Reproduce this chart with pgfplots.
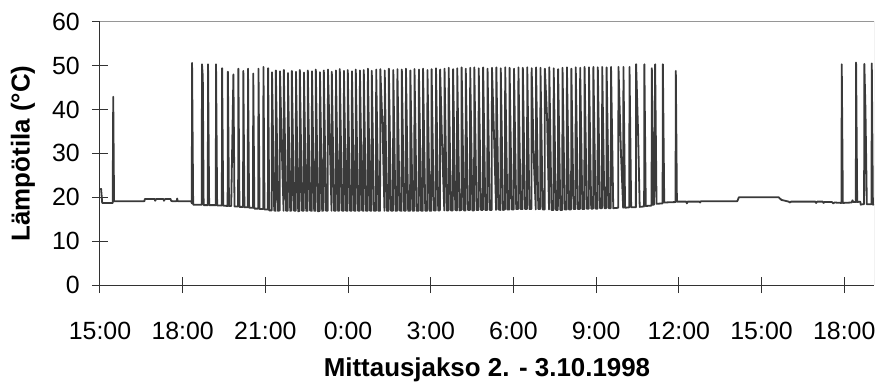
\documentclass[border=0pt]{standalone}
\usepackage{fontspec}
\setmainfont{Liberation Sans}
\usepackage{pgfplots}
\usepackage{pgfplotstable}
\pgfplotsset{compat=1.18}
\definecolor{dataline}{RGB}{58,58,58}
\definecolor{axisdark}{RGB}{50,50,50}
\definecolor{framegray}{RGB}{150,150,150}

\pgfplotstableread{
t T
0.00 21.8
0.04 21.9
0.08 18.7
0.46 18.7
0.48 42.9
0.51 19.1
1.61 19.1
1.63 19.6
1.98 19.6
2.00 19.2
2.04 19.6
2.30 19.6
2.32 19.2
2.36 19.6
2.56 19.6
2.58 19.2
2.62 19.1
2.78 19.1
2.80 19.7
2.82 19.1
3.31 19.1
3.33 18.6
3.34 50.6
3.38 18.3
3.69 18.3
3.70 50.3
3.73 47.5
3.76 18.2
3.91 18.2
3.92 50.3
3.96 18.2
4.20 18.2
4.21 50.3
4.25 18.1
4.42 18.1
4.43 49.4
4.47 18.1
4.63 18.0
4.64 48.6
4.68 18.0
4.76 18.0
4.84 48.0
4.88 17.9
5.01 17.9
5.02 49.3
5.06 17.8
5.19 17.8
5.20 48.8
5.24 17.7
5.36 17.7
5.37 49.3
5.41 17.6
5.55 17.6
5.56 48.2
5.60 17.4
5.74 17.4
5.75 49.3
5.79 17.3
5.92 17.3
5.93 49.7
5.97 17.2
6.09 17.2
6.10 49.4
6.14 17.0
6.23 17.0
6.24 48.5
6.32 17.0
6.37 16.9
6.38 48.9
6.46 16.9
6.52 17.0
6.53 48.7
6.60 30.0
6.66 16.9
6.67 49.0
6.75 16.9
6.81 16.9
6.82 48.3
6.90 16.9
6.95 17.0
6.96 48.8
7.04 16.9
7.10 16.9
7.11 48.6
7.19 16.8
7.24 16.9
7.25 49.0
7.33 16.9
7.39 16.9
7.40 48.4
7.48 16.9
7.53 16.9
7.54 48.9
7.62 17.0
7.68 16.9
7.69 48.7
7.77 16.9
7.82 16.9
7.83 49.1
7.91 16.8
7.97 16.9
7.98 48.5
8.06 16.9
8.11 17.0
8.12 48.9
8.20 16.9
8.26 16.9
8.27 49.1
8.34 32.0
8.40 16.9
8.41 48.6
8.49 16.9
8.55 16.9
8.56 48.9
8.64 16.9
8.69 17.0
8.70 49.2
8.78 16.9
8.84 16.9
8.85 48.8
8.93 16.9
8.98 16.9
8.99 49.0
9.07 16.9
9.13 16.9
9.14 48.7
9.22 16.9
9.27 16.9
9.28 49.1
9.36 16.9
9.42 16.9
9.43 48.9
9.51 17.0
9.56 16.9
9.57 49.0
9.65 16.9
9.71 16.9
9.72 49.3
9.80 16.9
9.85 16.9
9.86 48.8
9.94 16.9
10.01 16.9
10.02 49.1
10.10 16.9
10.16 16.9
10.17 49.2
10.25 36.0
10.32 16.9
10.33 48.9
10.41 16.9
10.47 16.9
10.48 49.3
10.56 16.9
10.63 16.9
10.64 49.0
10.72 16.9
10.78 16.9
10.79 49.2
10.87 17.0
10.94 16.9
10.95 49.1
11.03 16.9
11.09 16.9
11.10 49.3
11.18 16.9
11.25 16.9
11.26 48.9
11.34 16.9
11.40 16.9
11.41 49.2
11.49 16.9
11.56 16.9
11.57 49.1
11.65 16.9
11.71 16.9
11.72 49.3
11.80 16.9
11.87 16.9
11.88 49.0
11.96 16.9
12.02 16.9
12.03 49.2
12.11 17.0
12.18 17.0
12.19 49.4
12.27 17.0
12.33 17.0
12.34 49.1
12.42 30.0
12.49 17.0
12.50 49.3
12.58 17.0
12.64 17.0
12.65 49.5
12.73 17.0
12.80 17.0
12.81 49.2
12.89 17.1
12.95 17.0
12.96 49.4
13.04 17.0
13.11 17.1
13.12 49.6
13.20 17.0
13.26 17.0
13.27 49.3
13.35 17.1
13.42 17.1
13.43 49.5
13.51 17.0
13.57 17.0
13.58 49.6
13.66 17.1
13.73 17.1
13.74 49.4
13.82 17.1
13.89 17.1
13.90 49.6
13.98 17.1
14.05 17.1
14.06 49.3
14.14 17.1
14.21 17.1
14.22 49.5
14.30 33.0
14.37 17.1
14.38 49.6
14.46 17.2
14.53 17.1
14.54 49.4
14.62 17.1
14.69 17.2
14.70 49.6
14.78 17.2
14.85 17.2
14.86 49.5
14.94 17.2
15.01 17.2
15.02 49.3
15.10 17.3
15.17 17.3
15.18 49.6
15.26 17.3
15.33 17.3
15.34 49.5
15.42 17.3
15.49 17.3
15.50 49.6
15.58 17.3
15.65 17.3
15.66 49.4
15.74 28.0
15.81 17.2
15.82 49.6
15.90 17.3
15.97 17.3
15.98 49.5
16.06 17.2
16.13 17.2
16.14 49.3
16.22 38.0
16.29 17.2
16.30 49.6
16.38 17.1
16.45 17.1
16.46 49.4
16.54 17.1
16.61 17.1
16.62 49.2
16.70 17.1
16.77 17.1
16.78 49.5
16.86 17.2
16.93 17.2
16.94 49.6
17.02 17.2
17.09 17.2
17.10 49.3
17.18 17.3
17.25 17.3
17.26 49.6
17.34 17.3
17.41 17.3
17.42 49.5
17.50 17.3
17.57 17.3
17.58 49.7
17.66 17.4
17.73 17.4
17.74 49.6
17.82 17.4
17.89 17.4
17.90 49.7
17.98 17.4
18.05 17.4
18.06 49.6
18.14 17.5
18.21 17.5
18.22 49.7
18.30 17.5
18.37 17.5
18.38 49.6
18.46 17.5
18.53 17.5
18.54 49.7
18.62 17.5
18.80 17.6
18.81 49.7
18.90 30.0
18.98 17.6
18.99 49.7
19.05 17.6
19.20 17.7
19.21 49.7
19.27 17.7
19.44 17.7
19.45 50.3
19.52 35.0
19.58 17.8
19.74 17.9
19.75 50.3
19.80 18.0
20.01 18.1
20.02 49.4
20.06 18.3
20.10 18.3
20.14 50.3
20.19 18.5
20.41 18.6
20.42 50.3
20.47 18.8
20.88 18.9
20.89 48.8
20.93 19.0
21.27 19.0
21.29 18.6
21.32 19.0
21.75 19.0
21.77 18.8
21.80 19.1
23.12 19.1
23.18 20.0
24.62 20.0
24.72 19.4
24.85 19.2
24.98 19.0
25.03 18.8
25.07 19.0
25.95 19.0
25.98 18.7
26.02 19.0
26.22 19.0
26.25 18.7
26.28 18.9
26.55 18.9
26.60 18.6
26.65 18.8
26.90 18.7
26.91 50.3
26.95 18.7
27.27 18.8
27.30 19.3
27.33 18.9
27.42 18.9
27.43 50.7
27.47 18.9
27.58 19.0
27.60 18.3
27.66 18.4
27.72 18.4
27.73 50.4
27.77 40.0
27.82 18.4
27.99 18.4
28.00 50.5
28.04 18.3
28.08 18.4
}\tempdata

\begin{document}
\begin{tikzpicture}
\begin{axis}[
  scale only axis,
  width=774bp, height=263.3bp,
  xmin=0, xmax=28.08,
  ymin=0, ymax=60,
  axis x line*=bottom,
  axis y line*=left,
  axis line style={-, draw=axisdark, line width=1bp},
  xtick={0,3,6,9,12,15,18,21,24,27},
  xticklabels={15:00,18:00,21:00,0:00,3:00,6:00,9:00,12:00,15:00,18:00},
  ytick={0,10,20,30,40,50,60},
  tick align=center,
  major tick length=16bp,
  tick style={draw=axisdark, line width=1bp},
  /pgf/number format/assume math mode=true,
  ticklabel style={font=\fontsize{25}{30}\selectfont, text=black},
  xticklabel style={inner sep=0pt, anchor=base, yshift=-46bp},
  yticklabel style={inner sep=0pt, anchor=east, xshift=-12bp},
  xlabel={Mittausjakso 2. - 3.10.1998},
  ylabel={Lämpötila (°C)},
  label style={font=\fontsize{26}{31}\selectfont\bfseries},
  xlabel style={at={(axis description cs:0.5,-0.3494)}, anchor=base, inner sep=0pt},
  ylabel style={at={(axis description cs:-0.0995,0.5)}, anchor=center, inner sep=0pt},
  clip=true,
]
\draw[framegray, line width=1bp] (rel axis cs:0,1) -- (rel axis cs:1,1) -- (rel axis cs:1,0);
\addplot[dataline, line width=1.8bp, mark=none, line join=round] table[x=t, y=T] {\tempdata};
\end{axis}
\pgfresetboundingbox
\path[use as bounding box] ([shift={(-100bp,-102bp)}]current axis.south west) rectangle ([shift={(8bp,21.7bp)}]current axis.north east);
\end{tikzpicture}
\end{document}
